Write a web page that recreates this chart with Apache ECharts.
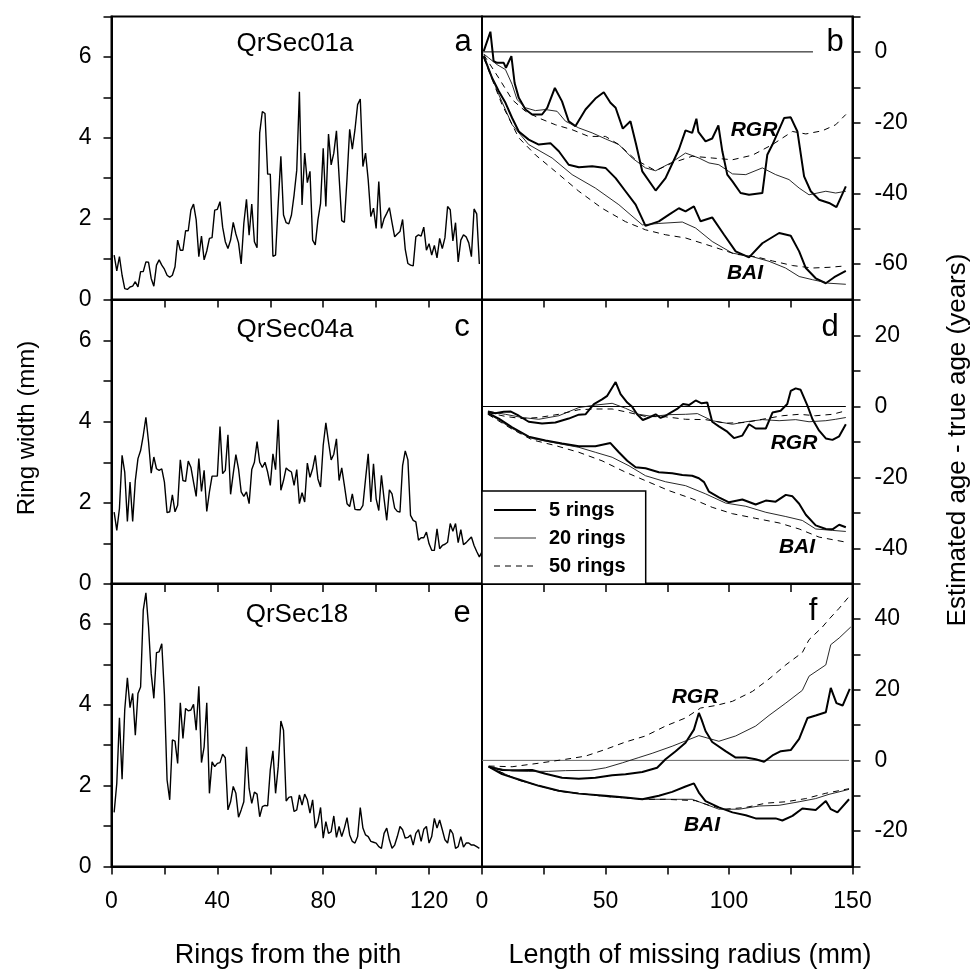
<!DOCTYPE html>
<html><head><meta charset="utf-8">
<script src="https://cdn.jsdelivr.net/npm/echarts@6/dist/echarts.min.js"></script>
<style>html,body{margin:0;padding:0;background:#fff}#c{width:975px;height:974px}</style>
</head><body><div id="c"></div>
<script>
// ---------- DATA ----------
const panelNames = ['QrSec01a', 'QrSec04a', 'QrSec18'];
const panelLetters = ['a', 'b', 'c', 'd', 'e', 'f'];
const legendNames = ['5 rings', '20 rings', '50 rings'];

// Ring widths (mm), ring 1..n
const widthA = [1.1,0.71,1.06,0.6,0.27,0.25,0.31,0.33,0.44,0.31,0.69,0.69,0.93,0.92,0.52,0.33,0.85,0.98,0.85,0.75,0.6,0.55,0.6,0.81,1.47,1.22,1.22,1.7,1.7,2.21,2.36,1.97,1.06,1.57,0.98,1.2,1.51,1.53,2.21,2.23,2.42,1.79,1.43,1.26,1.47,1.91,1.62,1.4,0.88,1.88,2.48,1.59,2.36,1.43,1.28,4.12,4.65,4.6,3.1,3.1,1.07,1.1,2.38,3.54,2.09,1.9,1.87,2.09,2.59,3.2,5.14,2.34,3.62,2.89,3.17,1.47,1.35,1.97,2.38,3.74,2.3,4.09,3.33,3.62,4.17,3.04,1.95,1.91,3.0,4.21,3.72,4.2,4.82,4.96,3.29,3.62,2.96,2.05,2.26,1.76,2.92,1.76,2.0,2.13,2.27,1.9,1.55,1.62,1.68,1.98,1.24,0.89,0.85,0.83,1.55,1.6,1.57,1.79,1.22,1.38,1.1,1.34,1.03,1.51,1.26,1.53,2.3,2.22,1.45,1.9,0.93,1.47,1.6,1.55,1.4,1.06,2.24,2.12,0.88];
const widthC = [1.77,1.32,1.86,3.17,2.76,1.54,2.51,1.54,2.55,3.09,3.29,3.66,4.11,3.5,2.73,3.13,2.84,2.8,2.84,2.51,1.76,1.78,2.2,1.78,1.94,3.06,2.55,2.53,3.03,2.88,2.51,2.16,3.09,2.28,2.8,1.79,2.27,2.66,2.66,2.66,3.88,2.72,2.8,3.68,2.21,2.72,3.19,2.84,2.27,2.16,2.27,1.98,2.82,3.0,3.51,3.0,2.87,3.0,2.76,2.43,3.21,2.82,4.05,2.31,2.55,2.86,2.8,2.76,2.43,2.82,1.98,2.25,2.02,2.98,2.63,2.84,3.17,2.59,2.39,3.42,3.97,3.5,3.06,3.2,3.58,2.55,2.86,2.43,1.98,1.91,2.22,1.84,1.83,1.83,1.94,2.59,3.21,2.02,2.96,2.1,1.81,2.68,2.1,1.57,2.32,2.22,1.87,1.79,1.77,2.92,3.28,3.06,1.69,1.57,1.53,1.08,1.14,1.14,1.28,0.99,0.83,0.83,1.36,0.87,0.95,0.98,1.03,1.49,1.3,1.49,1.02,1.34,0.97,1.02,1.09,1.16,0.95,0.8,0.67,0.79];
const widthE = [1.34,2.06,3.68,2.16,3.87,4.67,3.93,4.28,3.25,4.28,4.44,6.34,6.77,5.93,4.77,4.16,5.29,5.31,5.51,4.24,2.14,1.65,3.13,3.1,2.55,4.05,3.17,3.91,3.85,3.87,4.01,3.37,4.46,2.57,2.96,4.05,1.81,2.59,2.47,2.55,2.57,2.78,2.69,1.4,1.6,1.98,1.81,1.22,1.4,1.6,2.96,1.93,1.56,1.84,1.79,1.23,1.48,1.51,1.5,2.39,2.86,1.81,2.47,3.6,3.37,1.62,1.71,1.73,1.36,1.4,1.77,1.52,1.79,1.65,1.32,1.65,0.95,1.11,1.46,0.7,1.11,0.82,0.86,1.25,0.72,0.99,0.74,0.95,1.21,0.78,0.62,0.58,0.74,1.46,0.95,0.78,0.74,0.62,0.6,0.58,0.49,0.45,0.82,0.95,0.66,0.45,0.53,0.74,0.99,0.91,0.7,0.72,0.78,0.53,0.82,0.91,0.62,0.92,0.99,0.58,0.74,1.19,0.95,1.15,0.91,0.66,0.58,0.92,0.81,0.45,0.49,0.74,0.48,0.58,0.58,0.53,0.53,0.49,0.45];

// Estimated age - true age (years) vs missing radius (mm): [mm, years]
const bRGR5 = [[0.7,0.2],[3.4,5.7],[4.7,-2.6],[6.1,-3.1],[7.4,-3.1],[8.8,-3.1],[9.7,-4.5],[11.9,-1.2],[13.2,-8.8],[14.9,-13],[17.6,-16.3],[20.3,-17.7],[24.3,-17.7],[26.4,-15.8],[29.5,-10.2],[32.4,-14],[35.1,-19.6],[37.8,-21],[41.9,-16.3],[45.9,-13.2],[49.3,-11.4],[52,-14.4],[54.1,-15.8],[57,-21.7],[60.1,-19.6],[62.4,-26.2],[64.9,-33.8],[70.3,-39.2],[74.3,-35.7],[79.7,-27.6],[82.4,-22.2],[85.1,-22.9],[86.8,-18.9],[87.6,-22.6],[90.5,-25.3],[93.2,-24.5],[95.7,-20.8],[97.3,-28.1],[99.3,-34.7],[101.4,-36.6],[104.7,-39.9],[108.1,-40.4],[113.5,-39.9],[115.5,-29.1],[117.6,-26.2],[122.3,-18.7],[125,-18.5],[127.7,-22.5],[130.4,-35.2],[133.1,-39.4],[136.5,-41.8],[140.5,-42.7],[143.5,-43.9],[147.3,-38]];
const bRGR20 = [[0.7,-0.6],[2.7,-1.7],[6.1,-3.6],[9.5,-5],[12.2,-9.2],[14.2,-13.5],[17.6,-15.8],[21.6,-16.6],[25.7,-16.3],[30.4,-16.8],[33.8,-19.6],[39.2,-21.5],[44.6,-22.9],[50,-24.6],[55.4,-26.2],[60.8,-30],[66.2,-32.8],[70.3,-33.6],[76.4,-31.4],[82.4,-28.6],[87.8,-30],[91.9,-31.4],[95.9,-31.9],[101.4,-34.5],[106.8,-34.7],[113.5,-32.8],[118.9,-34.7],[124.3,-36.1],[128.4,-38.5],[132.4,-40.4],[139.2,-39.4],[143.2,-39.9],[147.3,-39.4]];
const bRGR50 = [[0.7,-0.8],[6.8,-7.4],[12.2,-13.5],[17.6,-16.8],[23,-18.7],[29.7,-20.6],[36.5,-22],[43.2,-23.9],[50,-23.9],[55.4,-26.2],[62.2,-30.5],[70.3,-33.6],[77,-31.4],[85.1,-29.5],[93.2,-30],[101.4,-30.5],[109.5,-29.2],[117.6,-26.2],[125.7,-22.5],[131.1,-23.2],[137.8,-22.3],[143.2,-20.6],[147.3,-17.7]];
const bBAI5 = [[0.7,-1.2],[4.1,-7.4],[6.8,-11.1],[9.5,-14.4],[12.2,-18.7],[14.9,-22.5],[18.9,-24.8],[23,-26.2],[27.7,-25.8],[31.1,-28.1],[35.1,-31.9],[39.2,-32.6],[44.6,-32.3],[50,-32.8],[54.1,-35.7],[58.1,-39.4],[62.2,-43.2],[66.2,-49.2],[71.6,-47.9],[75.7,-46],[79.7,-44.2],[82.4,-45.1],[85.8,-43.7],[88.5,-47.9],[93.2,-46.8],[98,-51.7],[102.7,-56.4],[108.1,-58.1],[113.5,-54.1],[120.3,-51.2],[125,-52],[128.4,-56.4],[131.1,-61.1],[135.1,-64],[139.2,-65.4],[142.6,-63.7],[147.3,-61.9]];
const bBAI20 = [[0.7,-1.2],[6.8,-12.1],[12.2,-20.6],[18.9,-26.2],[28.4,-30],[36.5,-34.7],[45.9,-38.5],[55.4,-43.2],[64.9,-48.9],[71.6,-48.5],[81.1,-48.1],[86.5,-49.8],[93.2,-53.6],[101.4,-56.9],[109.5,-57.9],[116.2,-59.2],[122.9,-61.1],[128.4,-63.5],[133.8,-64.4],[140.5,-65.4],[147.3,-65.7]];
const bBAI50 = [[0.7,-1.7],[8.1,-14.9],[14.9,-24.3],[21.6,-29.1],[29.7,-33.8],[39.2,-39.4],[48.6,-44.2],[58.1,-48],[66.2,-50.3],[74.3,-51.7],[82.4,-52.6],[93.2,-55],[102.7,-57.2],[110.8,-57.9],[117.6,-59.1],[125.7,-60.4],[133.8,-61.1],[140.5,-60.9],[147.3,-60.5]];

const dRGR5 = [[2.4,-1.4],[5.4,-1.9],[8.8,-1.5],[11.5,-1.4],[14.9,-2.6],[18.9,-4.3],[24.3,-4.8],[29.7,-4.5],[35.1,-3.4],[39.2,-2.3],[41.9,-2.2],[45.3,0.7],[48.6,2],[50.7,3],[54.1,6.9],[56.1,3.5],[58.8,1.1],[60.8,-0.1],[62.8,-2.2],[65.1,-3.8],[67.6,-3.1],[70.3,-2.2],[72.3,-3.2],[74.3,-2.6],[76.4,-1.7],[79,-0.7],[81.4,0.7],[83.8,0.4],[86.5,1.7],[88.9,0.9],[91.2,1.1],[93.2,-4.3],[95.9,-5.6],[99.3,-7.1],[102,-8.9],[105.4,-8.2],[108.1,-5],[110.8,-6.2],[114.9,-6.2],[117.6,-1.7],[120.9,-1.2],[123.6,0.7],[125,4.4],[127,5.1],[129,4.7],[131.8,0.2],[133.8,-3.6],[136.5,-6.8],[139.2,-9],[141.9,-9.4],[144.6,-8.4],[147.3,-5]];
const dRGR20 = [[2.4,-1.4],[9.5,-2.2],[16.2,-3.1],[23,-3.6],[31.1,-2.6],[39.2,-0.3],[45.9,0.4],[52.7,0.9],[58.1,-0.5],[63.5,-2.2],[68.9,-2.8],[75.7,-2.3],[82.4,-2.2],[87.2,-2],[93.2,-4],[101.4,-5],[106.8,-4.3],[113.5,-3.7],[120.3,-4],[127,-3.7],[132.4,-4.3],[139.2,-4],[143.2,-3.6],[147.3,-3.1]];
const dRGR50 = [[2.4,-1.7],[9.5,-2.8],[16.2,-3.4],[23,-3.1],[31.1,-2.2],[39.2,-0.9],[45.9,-0.7],[52.7,-0.7],[59.5,-1.7],[66.2,-2.8],[74.3,-2.9],[82.4,-3.6],[90.5,-3.7],[98.6,-4.7],[106.8,-4.5],[113.5,-3.6],[121.6,-2.6],[128.4,-2.2],[135.1,-2.6],[141.9,-2.2],[147.3,-1.2]];
const dBAI5 = [[2.4,-1.9],[6.8,-3.4],[12.2,-5.9],[18.9,-8.5],[25.7,-9.6],[32.4,-10.4],[39.2,-11.2],[45.9,-11.2],[52,-10.3],[55.4,-12.9],[58.8,-15.3],[62.2,-17.1],[66.2,-17.4],[71.6,-18.5],[77,-18.8],[81.1,-19.3],[85.1,-19.5],[87.8,-20.2],[89.9,-21.3],[91.9,-24],[95.9,-25.6],[100,-27],[105.4,-26.2],[110.8,-27.6],[114.9,-26.5],[118.9,-26.8],[123,-24.9],[125.7,-25.3],[128.4,-27.4],[131.1,-30.5],[135.1,-33.5],[139.2,-34.5],[141.9,-34.6],[144.6,-33.3],[147.3,-34]];
const dBAI20 = [[2.4,-1.9],[12.2,-6.2],[20.3,-9],[28.4,-10.1],[39.2,-11.5],[45.9,-12.9],[52.7,-14.3],[59.5,-16.7],[66.2,-19.5],[74.3,-21.2],[82.4,-22.3],[90.5,-24.6],[98.6,-27.2],[106.8,-28.1],[114.9,-29.8],[123,-31],[129.7,-32.1],[135.1,-34.5],[141.9,-34.9],[147.3,-35.2]];
const dBAI50 = [[2.4,-2.2],[12.2,-6.4],[20.3,-9.4],[29.7,-11],[39.2,-12.9],[48.6,-15.3],[58.1,-18.5],[66.2,-20.9],[75.7,-23.7],[85.1,-26],[93.2,-28.4],[101.4,-30.2],[110.8,-31.5],[120.3,-32.8],[128.4,-34.5],[136.5,-36.8],[141.9,-37.5],[147.3,-38.2]];

const fRGR5 = [[2.7,-1.8],[8.1,-2.7],[14.9,-2.8],[20.3,-2.7],[25.7,-3.8],[32.4,-4.9],[39.2,-5.2],[45.9,-4.9],[52.7,-4.2],[58.1,-3.9],[64.9,-3.3],[70.9,-2.1],[74.3,0.3],[78.4,2.6],[82.4,5],[85.8,8.7],[87.8,13.4],[88.9,11.5],[90.5,8.3],[93.2,5.2],[98.6,2.6],[102.7,0.8],[106.8,0.8],[110.8,0.3],[114.2,-0.4],[117.6,1.4],[121,2.6],[125,2.9],[128.4,6.1],[131.8,12],[135.1,12.7],[139.2,13.6],[141.2,20.5],[143.5,16.2],[146,15.5],[148.9,20.2]];
const fRGR20 = [[2.7,-1.8],[12.2,-3],[18.9,-3.1],[27,-3.1],[33.8,-2.9],[43.9,-2.8],[50,-2.1],[56.8,-0.7],[63.5,0.8],[68.9,2],[77,4],[87.8,7],[95.9,5.4],[102.7,6.9],[110.8,9.7],[116.2,12.7],[123,16.2],[129.7,19.8],[132.4,23.8],[139.2,27],[141.2,32.7],[144.6,34.6],[149.3,37.7]];
const fRGR50 = [[2.7,-1.6],[12.2,-1.8],[23,-0.8],[33.8,0.3],[41.9,1.2],[50,3.1],[58.1,5.2],[66.2,6.9],[74.3,9.7],[82.4,12],[88.5,14.8],[94.6,15.5],[101.4,16.7],[109.5,19.5],[116.2,23],[123,27],[129.7,30.5],[132.4,34.1],[137.8,37.7],[140.5,39.9],[144.6,43],[148.6,46.3]];
const fBAI5 = [[2.7,-1.8],[8.1,-3.9],[14.9,-5.4],[23,-7.2],[31.1,-8.6],[39.2,-9.4],[50,-10],[58.1,-10.5],[64.9,-11],[71.6,-10],[77,-8.9],[82.4,-7.4],[85.8,-6.5],[87.8,-9.1],[90.5,-11.5],[95.9,-13.3],[101.4,-14.7],[106.8,-15.5],[110.8,-16.4],[114.9,-16.4],[118.9,-16.4],[121.6,-17],[125.7,-15.7],[129.7,-13.6],[135.1,-14],[139.2,-11.5],[141.2,-13.8],[143.9,-14.7],[148.6,-11]];
const fBAI20 = [[2.7,-1.8],[14.9,-5.6],[31.1,-8.7],[50,-10.2],[64.9,-11],[74.3,-11],[85.1,-11],[90.5,-12.4],[95.9,-13.8],[104.1,-13.8],[112.2,-12.9],[120.3,-12.7],[128.4,-11.7],[135.1,-10.8],[140.5,-9.6],[148.6,-8.2]];
const fBAI50 = [[2.7,-1.8],[14.9,-5.6],[31.1,-8.7],[50,-10.2],[64.9,-11],[74.3,-11],[86.5,-11.4],[91.9,-12.7],[98.6,-13.8],[106.8,-13.3],[114.9,-12.1],[123,-11.7],[131.1,-10.8],[139.2,-9.3],[148.6,-8]];

const yRangesRight = [[-70, 10], [-50, 30], [-30, 50]];
const zeroLineEnds = [134, 147.3, 148.6];

// ---------- CHART ----------
const FONT = "'Liberation Sans', Arial, Helvetica, sans-serif";
const rowTop = [16.5, 300, 583.5];
const rowH = [283, 284, 283];
const LEFT_X = 111.5, RIGHT_X = 482, W = 370.5;

const grid = [], xAxis = [], yAxis = [], series = [];
const thick = {color: '#000', width: 2};
const thin = {color: '#111', width: 0.9};
const dash = {color: '#000', width: 1, type: [6, 5]};

const leftData = [widthA, widthC, widthE];
const rightData = [
  [bRGR5, bRGR20, bRGR50, bBAI5, bBAI20, bBAI50],
  [dRGR5, dRGR20, dRGR50, dBAI5, dBAI20, dBAI50],
  [fRGR5, fRGR20, fRGR50, fBAI5, fBAI20, fBAI50]
];

const axLine = {show: true, onZero: false, lineStyle: {color: '#000', width: 2}};
const tickStyle = {show: true, length: 8, lineStyle: {color: '#000', width: 1.5}};
const lblBase = {color: '#000', fontSize: 23, fontFamily: FONT};

for (let r = 0; r < 3; r++) {
  const gl = 2 * r, gr = 2 * r + 1;
  grid.push({left: LEFT_X, top: rowTop[r], width: W, height: rowH[r], show: true, borderColor: '#000', borderWidth: 2, backgroundColor: 'transparent'});
  grid.push({left: RIGHT_X, top: rowTop[r], width: W, height: rowH[r], show: true, borderColor: '#000', borderWidth: 2, backgroundColor: 'transparent'});
  xAxis.push({gridIndex: gl, type: 'value', min: 0, max: 140, interval: 20, axisLine: axLine, axisTick: tickStyle,
    splitLine: {show: false},
    axisLabel: Object.assign({show: r === 2, margin: 24, formatter: v => (v % 40 === 0 ? String(v) : '')}, lblBase)});
  xAxis.push({gridIndex: gr, type: 'value', min: 0, max: 150, interval: 25, axisLine: axLine, axisTick: tickStyle,
    splitLine: {show: false},
    axisLabel: Object.assign({show: r === 2, margin: 24, formatter: v => (v % 50 === 0 ? String(v) : '')}, lblBase)});
  yAxis.push({gridIndex: gl, type: 'value', position: 'left', min: 0, max: 7, interval: 1, axisLine: axLine, axisTick: tickStyle,
    splitLine: {show: false},
    axisLabel: Object.assign({margin: 20, formatter: v => (v % 2 === 0 ? String(v) : '')}, lblBase)});
  yAxis.push({gridIndex: gr, type: 'value', position: 'right', min: yRangesRight[r][0], max: yRangesRight[r][1], interval: 10,
    axisLine: axLine, axisTick: tickStyle, splitLine: {show: false},
    axisLabel: Object.assign({margin: 22, formatter: v => (v % 20 === 0 ? String(v) : '')}, lblBase)});

  series.push({type: 'line', name: 'ring width', xAxisIndex: gl, yAxisIndex: gl, symbol: 'none', silent: true,
    lineStyle: {color: '#000', width: 1.4}, data: leftData[r].map((v, i) => [i + 1, v])});

  series.push({type: 'line', name: 'zero', xAxisIndex: gr, yAxisIndex: gr, symbol: 'none', silent: true,
    lineStyle: {color: r === 2 ? '#666' : '#000', width: 1}, data: [[0, 0], [zeroLineEnds[r], 0]]});
  const styles = [thick, thin, dash, thick, thin, dash];
  rightData[r].forEach((d, k) => {
    series.push({type: 'line', name: legendNames[k % 3], xAxisIndex: gr, yAxisIndex: gr, symbol: 'none', silent: true,
      lineStyle: styles[k], itemStyle: {color: '#000'}, data: d});
  });
}

function txt(x, y, text, size, opts) {
  opts = opts || {};
  return {type: 'text', x: x, y: y, rotation: opts.rot || 0, z: 100, silent: true,
    style: {text: text, fill: '#000', font: (opts.style || '') + ' ' + (opts.weight || 'normal') + ' ' + size + 'px ' + FONT,
      textAlign: 'center', textVerticalAlign: 'middle', align: 'center', verticalAlign: 'middle'}};
}

const graphics = [
  txt(295, 44, panelNames[0], 26), txt(295, 330, panelNames[1], 26), txt(297, 615, panelNames[2], 26),
  txt(463, 42.5, panelLetters[0], 31), txt(835, 42.5, panelLetters[1], 31),
  txt(462, 327.5, panelLetters[2], 31), txt(830, 327.5, panelLetters[3], 31),
  txt(462, 613.5, panelLetters[4], 31), txt(813, 611.5, panelLetters[5], 31),
  txt(754, 130, 'RGR', 21, {style: 'italic', weight: 'bold'}), txt(745, 273, 'BAI', 21, {style: 'italic', weight: 'bold'}),
  txt(794, 443, 'RGR', 21, {style: 'italic', weight: 'bold'}), txt(797, 547, 'BAI', 21, {style: 'italic', weight: 'bold'}),
  txt(695, 697, 'RGR', 21, {style: 'italic', weight: 'bold'}), txt(702, 825, 'BAI', 21, {style: 'italic', weight: 'bold'}),
  txt(27, 428, 'Ring width (mm)', 24, {rot: Math.PI / 2}),
  txt(958, 440, 'Estimated age - true age (years)', 26, {rot: Math.PI / 2}),
  txt(288, 956, 'Rings from the pith', 27),
  txt(690, 956, 'Length of missing radius (mm)', 27)
];

const chart = echarts.init(document.getElementById('c'), null, {renderer: 'canvas'});
chart.setOption({
  animation: false,
  backgroundColor: '#fff',
  grid: grid, xAxis: xAxis, yAxis: yAxis, series: series,
  legend: {
    data: [
      {name: legendNames[0], itemStyle: {opacity: 0}, lineStyle: {width: 2, color: '#000', type: 'solid'}},
      {name: legendNames[1], itemStyle: {opacity: 0}, lineStyle: {width: 1, color: '#333', type: 'solid'}},
      {name: legendNames[2], itemStyle: {opacity: 0}, lineStyle: {width: 1, color: '#000', type: [6, 5]}}
    ],
    orient: 'vertical', left: 482, top: 491, selectedMode: false,
    itemWidth: 42, itemHeight: 14, itemGap: 8,
    padding: [9, 20, 8, 11], borderColor: '#000', borderWidth: 1.5, backgroundColor: '#fff',
    itemStyle: {opacity: 0},
    textStyle: {fontWeight: 'bold', fontSize: 20, fontFamily: FONT, color: '#000', padding: [0, 0, 0, 8]}
  },
  graphic: graphics
});
</script>
</body></html>
